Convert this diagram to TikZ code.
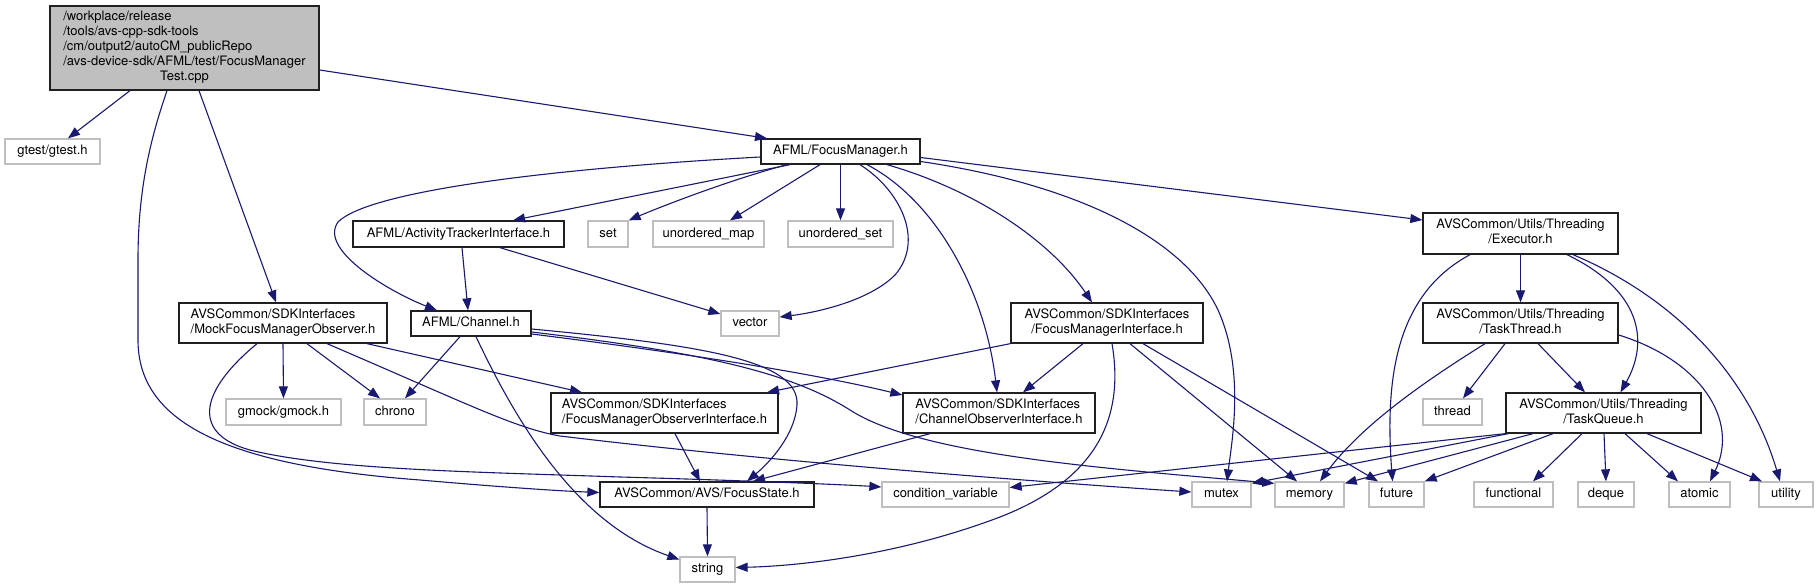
\documentclass[tikz,border=0pt]{standalone}
\usepackage{fontspec}
\setmainfont{TeX Gyre Heros}
\usetikzlibrary{arrows.meta}
\definecolor{edgeblue}{HTML}{191970}
\definecolor{greyb}{HTML}{BFBFBF}
\definecolor{boxline}{HTML}{202020}
\newcommand{\dxtwo}[2]{\begin{tabular}{@{}l@{}}#1\\\multicolumn{1}{@{}c@{}}{#2}\end{tabular}}
\tikzset{
  basebox/.style={rectangle, inner sep=0pt, font=\fontsize{13}{15}\selectfont, fill=white, line width=1.3pt},
  doc/.style={basebox, draw=boxline},
  ext/.style={basebox, draw=greyb},
  mainbox/.style={basebox, draw=boxline, fill=greyb},
  one/.style={text height=10.5pt, text depth=4pt},
  e/.style={draw=edgeblue, line width=1.1pt, -{Triangle[length=12pt,width=9pt]}}
}
\begin{document}
\begin{tikzpicture}[x=1pt,y=-1pt]
\fill[white] (0,0) rectangle (1818,588);
\useasboundingbox (0,0) rectangle (1818,588);
% nodes
\node[mainbox, minimum width=269, minimum height=84] (main) at (184.5,48)
  {\begin{tabular}{@{}l@{}}/workplace/release\\/tools/avs-cpp-sdk-tools\\/cm/output2/autoCM\_publicRepo\\/avs-device-sdk/AFML/test/FocusManager\\\multicolumn{1}{@{}c@{}}{Test.cpp}\end{tabular}};
\node[ext, one, minimum width=95, minimum height=25] (gtest) at (52.5,151.5) {gtest/gtest.h};
\node[doc, one, minimum width=159, minimum height=25] (fm) at (840.5,151.5) {AFML/FocusManager.h};
\node[doc, one, minimum width=211, minimum height=26] (at) at (458.5,234) {AFML/ActivityTrackerInterface.h};
\node[ext, one, minimum width=40, minimum height=26] (set) at (608,234) {set};
\node[ext, one, minimum width=111, minimum height=26] (umap) at (708.5,234) {unordered\_map};
\node[ext, one, minimum width=105, minimum height=26] (uset) at (840.5,234) {unordered\_set};
\node[doc, minimum width=195, minimum height=41] (exec) at (1520.5,233.5) {\dxtwo{AVSCommon/Utils/Threading}{/Executor.h}};
\node[doc, minimum width=208, minimum height=40] (mock) at (283,323) {\dxtwo{AVSCommon/SDKInterfaces}{/MockFocusManagerObserver.h}};
\node[doc, one, minimum width=120, minimum height=25] (channel) at (471,323.5) {AFML/Channel.h};
\node[ext, one, minimum width=58, minimum height=25] (vector) at (750,323.5) {vector};
\node[doc, minimum width=192, minimum height=40] (fmi) at (1107,323) {\dxtwo{AVSCommon/SDKInterfaces}{/FocusManagerInterface.h}};
\node[doc, minimum width=195, minimum height=40] (tthread) at (1520.5,323) {\dxtwo{AVSCommon/Utils/Threading}{/TaskThread.h}};
\node[ext, one, minimum width=115, minimum height=26] (gmock) at (283.5,412) {gmock/gmock.h};
\node[ext, one, minimum width=62, minimum height=26] (chrono) at (395,412) {chrono};
\node[doc, minimum width=227, minimum height=40] (fmobs) at (664.5,413) {\dxtwo{AVSCommon/SDKInterfaces}{/FocusManagerObserverInterface.h}};
\node[doc, minimum width=192, minimum height=40] (chobs) at (999,413) {\dxtwo{AVSCommon/SDKInterfaces}{/ChannelObserverInterface.h}};
\node[ext, one, minimum width=59, minimum height=26] (thread) at (1452.5,412) {thread};
\node[doc, minimum width=195, minimum height=40] (tqueue) at (1603.5,413) {\dxtwo{AVSCommon/Utils/Threading}{/TaskQueue.h}};
\node[doc, one, minimum width=214, minimum height=25] (focusstate) at (707,494.5) {AVSCommon/AVS/FocusState.h};
\node[ext, one, minimum width=127, minimum height=25] (condvar) at (945.5,494.5) {condition\_variable};
\node[ext, one, minimum width=59, minimum height=25] (mutex) at (1221.5,494.5) {mutex};
\node[ext, one, minimum width=69, minimum height=25] (memory) at (1309.5,494.5) {memory};
\node[ext, one, minimum width=55, minimum height=25] (future) at (1396.5,494.5) {future};
\node[ext, one, minimum width=79, minimum height=25] (functional) at (1513.5,494.5) {functional};
\node[ext, one, minimum width=56, minimum height=25] (deque) at (1606,494.5) {deque};
\node[ext, one, minimum width=61, minimum height=25] (atomic) at (1699.5,494.5) {atomic};
\node[ext, one, minimum width=54, minimum height=25] (utility) at (1786,494.5) {utility};
\node[ext, one, minimum width=55, minimum height=25] (string) at (707.5,569.5) {string};
% edges from main
\draw[e] ([xshift=-54.5]main.south) -- ([xshift=15.5]gtest.north);
\draw[e] ([xshift=-17.5]main.south) .. controls (150,140) and (138,190) .. (138,260) -- (138,340) .. controls (138,420) and (220,465) .. (420,480) .. controls (500,487) and (560,491) .. ([yshift=2]focusstate.west);
\draw[e] ([xshift=14.5]main.south) -- ([xshift=-7]mock.north);
\draw[e] ([yshift=-22]main.east) -- ([xshift=-73.5]fm.north);
% edges from FocusManager
\draw[e] ([xshift=-50.5]fm.south) -- ([xshift=54.5]at.north);
\draw[e] ([yshift=-5.5]fm.west) .. controls (560,168) and (370,190) .. (338,222) .. controls (318,250) and (390,292) .. ([xshift=-34]channel.north);
\draw[e] ([xshift=-53.5]fm.south) .. controls (730,180) and (665,205) .. (set.north east);
\draw[e] ([xshift=-20.5]fm.south) -- ([xshift=21.5]umap.north);
\draw[e] (fm.south) -- (uset.north);
\draw[e] ([xshift=19.5]fm.south) .. controls (900,190) and (925,240) .. (895,275) .. controls (870,300) and (820,312) .. ([yshift=6.5]vector.east);
\draw[e] ([xshift=26.5]fm.south) .. controls (935,200) and (985,290) .. ([xshift=-2]chobs.north);
\draw[e] ([xshift=46.5]fm.south) .. controls (975,190) and (1050,240) .. ([xshift=-15]fmi.north);
\draw[e] ([yshift=-10]fm.east) .. controls (1080,185) and (1185,240) .. (1218,310) .. controls (1245,370) and (1232,440) .. ([xshift=5.5]mutex.north);
\draw[e] ([yshift=-6]fm.east) -- ([yshift=13.5]exec.west);
% ActivityTracker
\draw[e] ([xshift=3.5]at.south) -- ([xshift=-3]channel.north);
\draw[e] ([xshift=41.5]at.south) -- ([yshift=9.5]vector.west);
% Mock
\draw[e] (mock.south) -- (gmock.north);
\draw[e] ([xshift=24]mock.south) -- ([xshift=-15]chrono.north);
\draw[e] ([xshift=84]mock.south) -- ([xshift=-82.5]fmobs.north);
\draw[e] ([xshift=44]mock.south) .. controls (470,405) and (515,428) .. (560,436) .. controls (800,465) and (1100,486) .. ([yshift=2.5]mutex.west);
\draw[e] ([xshift=-26]mock.south) .. controls (195,395) and (195,435) .. (250,450) .. controls (330,470) and (480,472) .. (620,477) .. controls (760,481) and (850,485) .. ([yshift=7.5]condvar.west);
% Channel
\draw[e] ([xshift=-11]channel.south) -- ([xshift=10]chrono.north);
\draw[e] ([yshift=-5.5]channel.east) .. controls (700,345) and (800,360) .. (797,405) .. controls (795,435) and (770,462) .. ([xshift=40]focusstate.north);
\draw[e] ([yshift=-8.5]channel.east) .. controls (700,352) and (790,372) .. (850,410) .. controls (920,455) and (1100,468) .. ([yshift=-2]memory.north west);
\draw[e] ([yshift=-10.5]channel.east) .. controls (700,355) and (820,375) .. ([yshift=18]chobs.west);
\draw[e] ([xshift=5]channel.south) .. controls (520,430) and (580,525) .. ([yshift=10]string.west);
% FocusManagerInterface
\draw[e] (fmi.south west) -- ([xshift=102.5]fmobs.north);
\draw[e] ([xshift=-24]fmi.south) -- ([xshift=24]chobs.north);
\draw[e] ([xshift=5]fmi.south) .. controls (1125,420) and (1095,480) .. (1000,517) .. controls (900,555) and (800,566) .. ([yshift=2]string.east);
\draw[e] ([xshift=23]fmi.south) -- ([xshift=-12.5]memory.north);
\draw[e] ([xshift=36]fmi.south) -- ([xshift=-18.5]future.north);
% Executor
\draw[e] (exec.south) -- (tthread.north);
\draw[e] ([xshift=-50.5]exec.south) .. controls (1395,295) and (1385,380) .. ([xshift=-4]future.north);
\draw[e] ([xshift=46.5]exec.south) .. controls (1640,290) and (1650,340) .. ([xshift=17]tqueue.north);
\draw[e] ([xshift=52.5]exec.south) .. controls (1680,300) and (1750,380) .. ([xshift=-6]utility.north);
% TaskThread
\draw[e] ([xshift=-15.5]tthread.south) -- ([xshift=10.5]thread.north);
\draw[e] ([xshift=17.5]tthread.south) -- ([xshift=-18.5]tqueue.north);
\draw[e] ([xshift=-35.5]tthread.south) .. controls (1440,372) and (1365,420) .. ([xshift=10.5]memory.north);
\draw[e] ([yshift=-12]tthread.east) .. controls (1700,360) and (1740,420) .. ([xshift=10.5]atomic.north);
% TaskQueue
\draw[e] (tqueue.south west) -- ([yshift=7]condvar.east);
\draw[e] ([xshift=3]tqueue.south west) -- ([yshift=-2]mutex.north east);
\draw[e] ([xshift=-70.5]tqueue.south) -- ([yshift=-2]memory.north east);
\draw[e] ([xshift=-50.5]tqueue.south) -- (future.north east);
\draw[e] ([xshift=-21.5]tqueue.south) -- ([xshift=19.5]functional.north);
\draw[e] ([xshift=0.5]tqueue.south) -- (deque.north);
\draw[e] ([xshift=21.5]tqueue.south) -- ([xshift=-21.5]atomic.north);
\draw[e] ([xshift=43.5]tqueue.south) -- ([xshift=-24]utility.north);
% Interfaces and FocusState
\draw[e] ([xshift=10.5]fmobs.south) -- ([xshift=-7]focusstate.north);
\draw[e] ([xshift=-69]chobs.south) -- ([xshift=46]focusstate.north);
\draw[e] (focusstate.south) -- (string.north);
\end{tikzpicture}
\end{document}
